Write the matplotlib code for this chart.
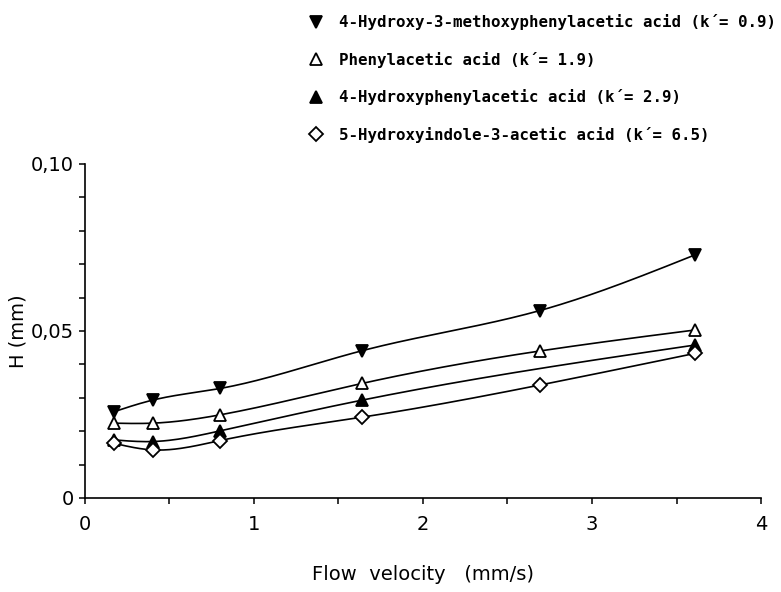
import numpy as np
import matplotlib
matplotlib.use("Agg")
import matplotlib.pyplot as plt
from matplotlib.lines import Line2D
from matplotlib.ticker import MultipleLocator, FuncFormatter

# flow velocity (mm/s) and plate height H (mm)
x_main = [0.17, 0.40, 0.80, 1.64, 2.69, 3.61]
x_hpaa = [0.17, 0.40, 0.80, 1.64, 3.61]

h_hmpaa = [0.0258, 0.0293, 0.0328, 0.0441, 0.0561, 0.0728]
h_paa = [0.0224, 0.0224, 0.0249, 0.0343, 0.0440, 0.0503]
h_hpaa = [0.0174, 0.0169, 0.0201, 0.0293, 0.0458]
h_hiaa = [0.0164, 0.0144, 0.0172, 0.0242, 0.0338, 0.0433]

labels = ["4-Hydroxy-3-methoxyphenylacetic acid (k\u00b4= 0.9)",
          "Phenylacetic acid (k\u00b4= 1.9)",
          "4-Hydroxyphenylacetic acid (k\u00b4= 2.9)",
          "5-Hydroxyindole-3-acetic acid (k\u00b4= 6.5)"]


def natural_spline(x, y, n=200):
    # plain natural cubic spline, just for the smooth drawn curve
    x = np.asarray(x, float)
    y = np.asarray(y, float)
    k = len(x)
    h = np.diff(x)
    A = np.zeros((k, k))
    b = np.zeros(k)
    A[0, 0] = 1
    A[-1, -1] = 1
    for i in range(1, k - 1):
        A[i, i - 1] = h[i - 1]
        A[i, i] = 2 * (h[i - 1] + h[i])
        A[i, i + 1] = h[i]
        b[i] = 6 * ((y[i + 1] - y[i]) / h[i] - (y[i] - y[i - 1]) / h[i - 1])
    M = np.linalg.solve(A, b)
    xs = np.linspace(x[0], x[-1], n)
    ys = np.empty_like(xs)
    for j, t in enumerate(xs):
        i = min(np.searchsorted(x, t) - 1, k - 2)
        i = max(i, 0)
        a = x[i + 1] - t
        c = t - x[i]
        ys[j] = (M[i] * a**3 / 6 + M[i + 1] * c**3 / 6) / h[i] \
            + (y[i] / h[i] - M[i] * h[i] / 6) * a \
            + (y[i + 1] / h[i] - M[i + 1] * h[i] / 6) * c
    return xs, ys


fig = plt.figure(figsize=(7.81, 5.92), dpi=100)
ax = fig.add_axes([0.1088, 0.1588, 0.8656, 0.5642])

series = [
    (x_main, h_hmpaa, dict(marker="v", mfc="black")),
    (x_main, h_paa, dict(marker="^", mfc="white")),
    (x_hpaa, h_hpaa, dict(marker="^", mfc="black")),
    (x_main, h_hiaa, dict(marker="D", mfc="white", markersize=7)),
]

handles = []
for (xs, hs, st), lab in zip(series, labels):
    cx, cy = natural_spline(xs, hs)
    ax.plot(cx, cy, color="black", lw=1.2, zorder=2)
    ms = st.get("markersize", 9)
    ax.plot(xs, hs, linestyle="none", marker=st["marker"], mfc=st["mfc"],
            mec="black", mew=1.3, markersize=ms, zorder=3)
    handles.append(Line2D([], [], linestyle="none", marker=st["marker"],
                          mfc=st["mfc"], mec="black", mew=1.3, markersize=ms))

ax.set_xlim(0, 4)
ax.set_ylim(0, 0.10)
ax.spines["top"].set_visible(False)
ax.spines["right"].set_visible(False)
for s in ["left", "bottom"]:
    ax.spines[s].set_linewidth(1.2)

ax.xaxis.set_major_locator(MultipleLocator(1))
ax.xaxis.set_minor_locator(MultipleLocator(0.5))
ax.yaxis.set_major_locator(MultipleLocator(0.05))
ax.yaxis.set_minor_locator(MultipleLocator(0.01))
ax.yaxis.set_major_formatter(FuncFormatter(
    lambda v, p: "0" if abs(v) < 1e-9 else ("%.2f" % v).replace(".", ",")))
ax.tick_params(which="both", direction="out", length=4.5, width=1.1)
ax.tick_params(axis="x", labelsize=14, pad=8)
ax.tick_params(axis="y", labelsize=14, pad=3.5)

ax.set_xlabel("Flow  velocity   (mm/s)", fontsize=14, labelpad=22)
ax.set_ylabel("H (mm)", fontsize=14)
ax.yaxis.set_label_coords(-0.085, 0.5)

fig.legend(handles=handles, labels=labels, loc="upper left",
           bbox_to_anchor=(0.376, 1.0), frameon=False,
           prop=dict(family="DejaVu Sans Mono", size=11.3, weight="bold"),
           labelspacing=1.37, handlelength=1.0, handletextpad=1.02)

fig.savefig("out.png", dpi=100)
